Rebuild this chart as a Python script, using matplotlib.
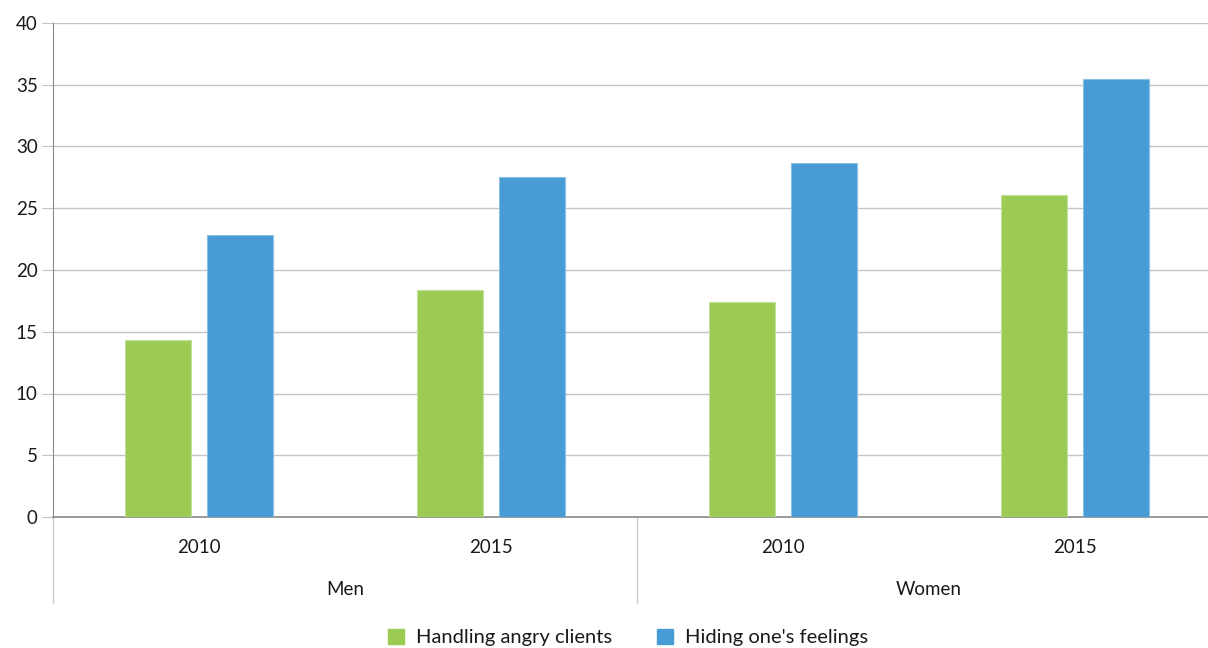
import matplotlib.pyplot as plt
from matplotlib.patches import Patch
from matplotlib.transforms import blended_transform_factory

# data
groups = ["Men", "Women"]
years = ["2010", "2015"]
tick_labels = ["2010", "2015", "2010", "2015"]
handling_angry = [14.3, 18.4, 17.4, 26.1]
hiding_feelings = [22.8, 27.5, 28.7, 35.5]
series_names = ["Handling angry clients", "Hiding one's feelings"]

green = "#9bcb54"
blue = "#489cd5"
plt.rcParams["font.family"] = ["Lato", "DejaVu Sans"]

fig = plt.figure(figsize=(12.08, 6.48), dpi=100)
ax = fig.add_axes([53 / 1208, 131 / 648, 1155 / 1208, 494 / 648])

x = list(range(len(tick_labels)))
w = 0.225
ax.bar([i - 0.141 for i in x], handling_angry, width=w, color=green,
       edgecolor="#c3e09a", linewidth=0.8, zorder=3)
ax.bar([i + 0.141 for i in x], hiding_feelings, width=w, color=blue,
       edgecolor="#8cc1e6", linewidth=0.8, zorder=3)

ax.set_xlim(-0.5, 3.455)
ax.set_ylim(0, 40)
ax.set_yticks(range(0, 41, 5))
ax.grid(axis="y", color="#c4c4c4", linewidth=1, zorder=0)
ax.tick_params(axis="y", length=8, color="#c4c4c4", labelsize=13.5, pad=3,
               labelcolor="#1a1a1a")
ax.set_xticks(x)
ax.set_xticklabels(tick_labels)
ax.tick_params(axis="x", length=0, labelsize=13.5, pad=16, labelcolor="#1a1a1a")

for side in ["top", "right"]:
    ax.spines[side].set_visible(False)
ax.spines["left"].set_color("#888888")
ax.spines["bottom"].set_color("#888888")
ax.spines["bottom"].set_linewidth(1.2)

trans = blended_transform_factory(ax.transData, ax.transAxes)
for xd in [-0.5, 1.5]:
    ax.plot([xd, xd], [0, -0.174], transform=trans, color="#cccccc",
            linewidth=1, clip_on=False)
for gi, g in enumerate(groups):
    ax.text(gi * 2 + 0.5, -0.146, g, transform=trans, ha="center", va="center",
            fontsize=13.5, color="#1a1a1a")

handles = [Patch(color=green), Patch(color=blue)]
fig.legend(handles, series_names, loc="center", bbox_to_anchor=(0.52, 0.016),
           ncol=2, frameon=False, fontsize=14.5, handlelength=0.8,
           handleheight=0.8, columnspacing=2.2, handletextpad=0.6,
           labelcolor="#1a1a1a")

fig.savefig("out.png", dpi=100)
plt.close(fig)
